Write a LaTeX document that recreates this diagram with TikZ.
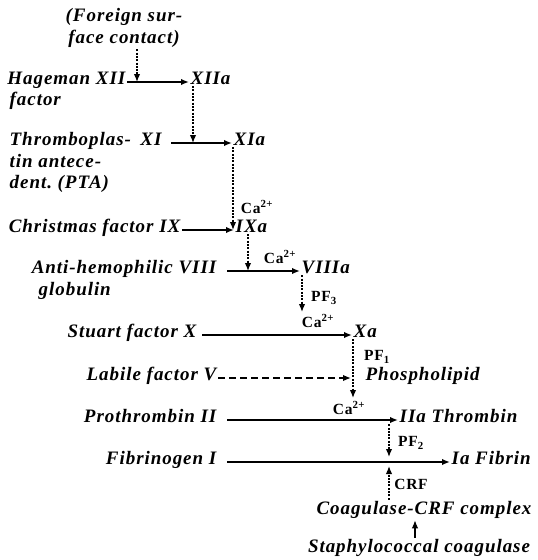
\documentclass[tikz,border=0pt]{standalone}
\usepackage{fontspec}
\setmainfont{Liberation Serif}
\newfontfamily\facfont[LetterSpace=5]{Liberation Serif}
\usetikzlibrary{arrows.meta}

\begin{document}
\begin{tikzpicture}[x=1pt,y=-1pt,>={Latex[length=8pt,width=6.5pt]},
  fac/.style={font={\facfont\fontsize{19}{22}\selectfont\bfseries\itshape},inner sep=1.5pt},
  ion/.style={font={\facfont\fontsize{15.5}{17}\selectfont\bfseries},inner sep=0pt},
  conv/.style={->,line width=1.6pt},
  cat/.style={->,line width=1.4pt,dash pattern=on 2pt off 1.3pt}]
  \useasboundingbox (0,0) rectangle (538,560);
  % contact activation
  \node[fac,align=center] (fsc) at (124,28) {(Foreign sur-\\face contact)};
  \node[fac,anchor=mid east] (xii) at (127,82) {Hageman XII};
  \node[fac,anchor=mid west] (xiib) at (8,103) {factor};
  \node[fac,anchor=mid west] (xiia) at (189,82) {XIIa};
  \draw[conv] (xii.mid east) -- (xiia.mid west);
  \coordinate (h1) at (137,82);
  \draw[cat] (fsc.south -| h1) -- (h1);
  % XI
  \node[fac,anchor=mid west] (xi) at (8,143) {Thromboplas-\enspace XI};
  \node[fac,anchor=mid west] (xib) at (8,165) {tin antece-};
  \node[fac,anchor=mid west] (xic) at (8,186) {dent.\ (PTA)};
  \node[fac,anchor=mid west] (xia) at (232,143) {XIa};
  \draw[conv] ([xshift=8pt]xi.mid east) -- (xia.mid west);
  \coordinate (h2) at (193,143);
  \draw[cat] (xiia.south -| h2) -- (h2);
  % IX
  \node[fac,anchor=mid east] (ix) at (182,230) {Christmas factor IX};
  \node[fac,anchor=mid west] (ixa) at (234,230) {IXa};
  \draw[conv] (ix.mid east) -- (ixa.mid west);
  \coordinate (h3) at (233,230);
  \draw[cat] (xia.south -| h3) -- (h3);
  \node[ion] (ca1) at (257,207) {Ca\textsuperscript{2+}};
  % VIII
  \node[fac,anchor=mid east] (viii) at (218,271) {Anti-hemophilic VIII};
  \node[fac,anchor=mid west] (viiib) at (37,293) {globulin};
  \node[fac,anchor=mid west] (viiia) at (300,271) {VIIIa};
  \draw[conv] ([xshift=9pt]viii.mid east) -- (viiia.mid west);
  \coordinate (h4) at (248,271);
  \draw[cat] (ixa.south -| h4) -- (h4);
  \node[ion] (ca2) at (280,257) {Ca\textsuperscript{2+}};
  % X
  \node[fac,anchor=mid east] (x) at (198,335) {Stuart factor X};
  \node[fac,anchor=mid west] (xa) at (352,335) {Xa};
  \draw[conv] ([xshift=4pt]x.mid east) -- (xa.mid west);
  \coordinate (h5) at (302,312);
  \draw[cat] (viiia.south -| h5) -- (h5);
  \node[ion] (pf3) at (324,298) {PF\textsubscript{3}};
  \node[ion] (ca3) at (318,321) {Ca\textsuperscript{2+}};
  % V
  \node[fac,anchor=mid east] (v) at (218,378) {Labile factor V};
  \node[fac,anchor=mid west] (pl) at (364,378) {Phospholipid};
  \coordinate (h7) at (351,378);
  \draw[->,line width=1.5pt,dash pattern=on 7pt off 4pt] (v.mid east) -- (h7);
  \coordinate (h6) at (353,398);
  \draw[cat] (xa.south -| h6) -- (h6);
  \node[ion] (pf1) at (377,357) {PF\textsubscript{1}};
  % II
  \node[fac,anchor=mid east] (ii) at (218,420) {Prothrombin II};
  \node[fac,anchor=mid west] (iia) at (398,420) {IIa Thrombin};
  \draw[conv] ([xshift=9pt]ii.mid east) -- (iia.mid west);
  \node[ion] (ca4) at (349,408) {Ca\textsuperscript{2+}};
  % I
  \node[fac,anchor=mid east] (i) at (218,462) {Fibrinogen I};
  \node[fac,anchor=mid west] (ia) at (450,462) {Ia Fibrin};
  \draw[conv] ([xshift=9pt]i.mid east) -- (ia.mid west);
  \coordinate (h8) at (389,457);
  \draw[cat] (iia.south -| h8) -- (h8);
  \node[ion] (pf2) at (411,443) {PF\textsubscript{2}};
  % coagulase
  \node[fac] (crfc) at (424,510) {Coagulase-CRF complex};
  \node[fac] (staph) at (419,548) {Staphylococcal coagulase};
  \coordinate (h9) at (389,466);
  \draw[cat] (crfc.north -| h9) -- (h9);
  \node[ion] (crf) at (411,484) {CRF};
  \coordinate (h10) at (415,530);
  \draw[->,line width=1.2pt] (staph.north -| h10) -- (crfc.south -| h10);
\end{tikzpicture}
\end{document}
